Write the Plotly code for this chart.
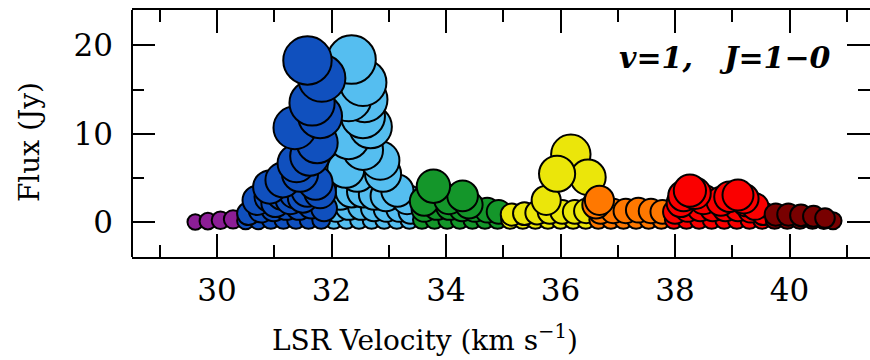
import numpy as np
import plotly.graph_objects as go

# Maser spots: LSR velocity (km/s) and flux density (Jy), grouped by velocity range.
# Within each group, spots are listed in drawing order (low flux first).
purple_v = [29.62, 29.84, 30.06, 30.28]
purple_f = [0.05, 0.15, 0.25, 0.35]

lblue_v = [32.04, 32.26, 32.48, 32.70, 32.92, 33.14, 33.36,
           32.08, 32.30, 32.52, 32.74, 32.96, 33.18, 33.38,
           32.15, 32.35, 32.55, 32.75, 32.95, 33.32, 33.15,
           32.45, 32.90, 32.25, 32.85, 32.55, 32.30, 32.68, 32.55, 32.58, 32.30, 32.55, 32.35]
lblue_f = [0.3, 0.3, 0.3, 0.3, 0.3, 0.3, 0.3,
           1.5, 1.8, 1.8, 1.6, 1.5, 1.5, 1.2,
           3.2, 3.5, 3.5, 3.2, 3.0, 2.6, 3.6,
           5.5, 5.5, 6.0, 7.0, 8.2, 9.5, 10.8, 12.0, 13.9, 14.0, 15.8, 18.4]

dblue_v = [30.50, 30.72, 30.94, 31.16, 31.38, 31.60, 31.82,
           30.55, 30.77, 30.99, 31.21, 31.43, 31.65, 31.87,
           30.70, 30.92, 31.02, 31.14, 31.28, 31.36, 31.50, 31.58, 31.80,
           30.92, 31.15, 31.72, 31.45, 31.39, 31.62, 31.75, 31.36, 31.80, 31.66, 31.83, 31.58]
dblue_f = [0.2, 0.2, 0.3, 0.3, 0.3, 0.3, 0.3,
           1.0, 1.4, 1.6, 1.8, 1.8, 2.0, 1.6,
           2.5, 2.9, 2.2, 3.2, 2.6, 3.4, 2.8, 3.6, 3.4,
           4.0, 4.8, 4.5, 5.5, 6.7, 7.5, 9.0, 10.7, 12.0, 13.5, 16.3, 18.3]

green_v = [33.58, 33.80, 34.02, 34.24, 34.46, 34.68, 34.90,
           33.62, 33.84, 34.06, 34.28, 34.50, 34.72, 34.92,
           33.62, 34.05, 34.40, 34.29, 33.78]
green_f = [0.3, 0.3, 0.3, 0.3, 0.3, 0.3, 0.3,
           1.5, 1.8, 1.8, 1.6, 1.5, 1.4, 1.2,
           2.4, 2.6, 2.0, 3.0, 4.1]

yellow_v = [35.12, 35.34, 35.56, 35.78, 36.00, 36.22, 36.44,
            35.15, 35.37, 35.59, 35.81, 36.03, 36.25, 36.45,
            36.18, 35.75, 36.48, 35.94]
yellow_f = [0.3, 0.3, 0.3, 0.3, 0.3, 0.3, 0.3,
            0.9, 1.0, 1.1, 1.2, 1.2, 1.2, 1.3,
            7.7, 2.5, 5.1, 5.5]

orange_v = [36.66, 36.88, 37.10, 37.32, 37.54, 37.76,
            36.70, 36.92, 37.14, 37.36, 37.58, 37.78,
            36.62, 36.68]
orange_f = [0.3, 0.3, 0.3, 0.3, 0.3, 0.3,
            1.2, 1.3, 1.3, 1.4, 1.3, 1.2,
            2.0, 2.5]

red_v = [37.98, 38.20, 38.42, 38.64, 38.86, 39.08, 39.30, 39.52,
         38.00, 38.22, 38.44, 38.66, 38.88, 39.10, 39.32, 39.54,
         38.10, 38.50, 38.80, 39.25, 39.40, 38.15, 38.35, 38.95, 39.20, 39.10, 38.26]
red_f = [0.3, 0.3, 0.3, 0.3, 0.3, 0.3, 0.3, 0.3,
         1.2, 1.5, 1.6, 1.6, 1.6, 1.6, 1.4, 1.0,
         2.2, 2.6, 2.4, 2.3, 1.8, 3.0, 3.3, 2.9, 2.7, 3.1, 3.6]

dred_v = [39.74, 39.96, 40.18, 40.40, 40.60, 40.76,
          39.76, 39.98, 40.20, 40.42, 40.62]
dred_f = [0.3, 0.3, 0.3, 0.3, 0.25, 0.2,
          0.9, 0.9, 0.8, 0.7, 0.5]

x_ticks = [30, 32, 34, 36, 38, 40]
y_ticks = [0, 10, 20]

groups = [
    (purple_v, purple_f, "#8c1e96"),
    (lblue_v, lblue_f, "#55bef0"),
    (dblue_v, dblue_f, "#1050be"),
    (green_v, green_f, "#14962a"),
    (yellow_v, yellow_f, "#ebe60a"),
    (orange_v, orange_f, "#ff7800"),
    (red_v, red_f, "#fa0000"),
    (dred_v, dred_f, "#780000"),
]

OUTLINE = 2.0


def spot_size(flux):
    # circle diameter grows with the logarithm of the flux
    f = np.asarray(flux, dtype=float)
    return 17 + 26 * np.log10(1 + f) - OUTLINE


fig = go.Figure()
for vel, flux, color in groups:
    fig.add_trace(go.Scatter(
        x=vel, y=flux, mode="markers",
        marker=dict(size=spot_size(flux), color=color, opacity=1,
                    line=dict(color="black", width=OUTLINE)),
        cliponaxis=False, hoverinfo="x+y",
    ))

tick_font = dict(family="DejaVu Serif", size=31, color="black")
title_font = dict(family="DejaVu Serif", size=28, color="black")

fig.update_layout(
    width=870, height=360,
    margin=dict(l=132, r=0, t=10, b=103),
    plot_bgcolor="white", paper_bgcolor="white",
    showlegend=False,
    font=dict(family="DejaVu Serif", color="black"),
)

fig.update_xaxes(
    range=[28.515, 41.406], tickvals=x_ticks,
    ticks="inside", ticklen=23, tickwidth=2, tickcolor="black",
    minor=dict(ticks="inside", ticklen=12, tickwidth=2, tickcolor="black", dtick=1, tick0=0),
    showline=True, linewidth=2, linecolor="black", mirror="ticks",
    showgrid=False, zeroline=False, tickfont=tick_font, ticklabelstandoff=5,
)
fig.update_yaxes(
    range=[-3.9, 24.0], tickvals=y_ticks,
    ticks="inside", ticklen=23, tickwidth=2, tickcolor="black",
    minor=dict(ticks="inside", ticklen=12, tickwidth=2, tickcolor="black", dtick=5, tick0=0),
    showline=False, mirror="ticks",
    showgrid=False, zeroline=False, tickfont=tick_font, ticklabelstandoff=18,
)

# left edge of the frame (the right edge runs off the figure)
fig.add_shape(type="line", xref="paper", yref="paper", x0=0, x1=0, y0=0, y1=1,
              line=dict(color="black", width=2), layer="above")

# axis titles
fig.add_annotation(
    text="LSR Velocity (km s<sup>−1</sup>)",
    xref="paper", yref="paper", x=0.397, y=-0.328,
    xanchor="center", yanchor="middle", showarrow=False, font=title_font,
)
fig.add_annotation(
    text="Flux (Jy)", textangle=-90,
    xref="paper", yref="paper", x=-0.138, y=0.466,
    xanchor="center", yanchor="middle", showarrow=False, font=title_font,
)

fig.add_annotation(
    text="<b><i>v=1,   J=1−0</i></b>",
    xref="paper", yref="paper", x=0.95, y=0.806,
    xanchor="right", yanchor="middle", showarrow=False,
    font=dict(family="DejaVu Serif", size=30, color="black"),
)

fig.write_html("out.html")
